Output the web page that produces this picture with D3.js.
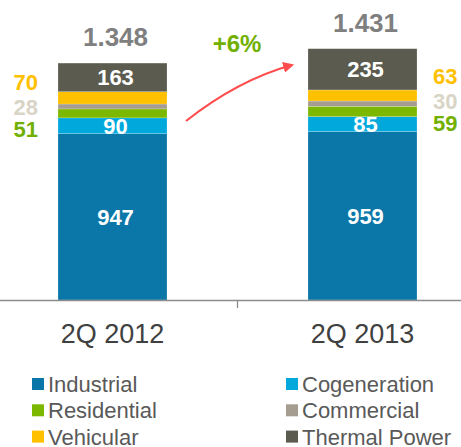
<!DOCTYPE html>
<html>
<head>
<meta charset="utf-8">
<script src="https://cdn.jsdelivr.net/npm/d3@7"></script>
<style>
  body { margin: 0; background: #fff; }
  svg { display: block; font-family: "Liberation Sans", Arial, sans-serif; }
</style>
</head>
<body>
<script>
// stacked volumes by segment, two quarters
var periods = ["2Q 2012", "2Q 2013"];
var segments = ["Industrial", "Cogeneration", "Residential", "Commercial", "Vehicular", "Thermal Power"];
var industrial   = [947, 959];
var cogeneration = [90, 85];
var residential  = [51, 59];
var commercial   = [28, 30];
var vehicular    = [70, 63];
var thermal      = [163, 235];
var totals       = ["1.348", "1.431"];
var growth       = "+6%";

var colors = ["#0a77a8", "#00a8dc", "#7db800", "#a59d90", "#ffc000", "#5b5b4f"];
var sideColors = { "Vehicular": "#ffc000", "Commercial": "#d9d5c6", "Residential": "#72b000" };

var width = 461, height = 447;
var svg = d3.select("body").append("svg")
  .attr("width", width)
  .attr("height", height);

var rows = periods.map(function(p, i) {
  return {
    period: p,
    "Industrial": industrial[i],
    "Cogeneration": cogeneration[i],
    "Residential": residential[i],
    "Commercial": commercial[i],
    "Vehicular": vehicular[i],
    "Thermal Power": thermal[i]
  };
});

var stack = d3.stack().keys(segments);
var series = stack(rows);

var x = d3.scaleBand()
  .domain(periods)
  .range([-12.5, 487.5])
  .paddingInner(0.564)
  .paddingOuter(0.282);

var y = d3.scaleLinear()
  .domain([0, 1600])
  .range([300, 19]);

// bars
var layer = svg.selectAll("g.layer")
  .data(series)
  .enter().append("g")
  .attr("class", "layer")
  .attr("fill", function(d, i) { return colors[i]; });

layer.selectAll("rect")
  .data(function(d) { return d; })
  .enter().append("rect")
  .attr("x", function(d) { return x(d.data.period); })
  .attr("width", x.bandwidth())
  .attr("y", function(d) { return y(d[1]); })
  .attr("height", function(d) { return y(d[0]) - y(d[1]); })
  .attr("stroke", "#ffffff")
  .attr("stroke-opacity", 0.35)
  .attr("stroke-width", 0.6);

// axis
var axis = svg.append("g")
  .attr("transform", "translate(0," + y(0) + ")")
  .call(d3.axisBottom(x).tickSize(0).tickPadding(24));
axis.select(".domain").attr("stroke", "#8c8c8c").attr("stroke-width", 1.3);
axis.selectAll(".tick text")
  .attr("font-family", "Liberation Sans, Arial, sans-serif")
  .attr("font-size", 27)
  .attr("fill", "#404040");

var sep = x(periods[1]) - x.step() * x.paddingInner() / 2;
svg.append("line")
  .attr("x1", sep).attr("x2", sep)
  .attr("y1", y(0)).attr("y2", y(0) + 8)
  .attr("stroke", "#8c8c8c")
  .attr("stroke-width", 1.3);

// white labels inside big segments
var inside = ["Industrial", "Cogeneration", "Thermal Power"];
series.forEach(function(s) {
  if (inside.indexOf(s.key) < 0) return;
  s.forEach(function(d) {
    svg.append("text")
      .attr("x", x(d.data.period) + x.bandwidth() / 2 + 3)
      .attr("y", (y(d[0]) + y(d[1])) / 2)
      .attr("dy", "0.36em")
      .attr("text-anchor", "middle")
      .attr("fill", "#ffffff")
      .attr("font-weight", "bold")
      .attr("font-size", 22)
      .text(d.data[s.key]);
  });
});

// small segment values beside the bars
var sideKeys = ["Vehicular", "Commercial", "Residential"];
var offs = [-25, 0, 22];
periods.forEach(function(p, i) {
  var com = series[3][i];
  var mid = (y(com[0]) + y(com[1])) / 2;
  sideKeys.forEach(function(k, j) {
    svg.append("text")
      .attr("x", i === 0 ? x(p) - 20 : x(p) + x.bandwidth() + 16)
      .attr("y", mid + offs[j] - (i === 0 ? -1 : 3))
      .attr("dy", "0.36em")
      .attr("text-anchor", i === 0 ? "end" : "start")
      .attr("fill", sideColors[k])
      .attr("font-weight", "bold")
      .attr("font-size", 22)
      .text(rows[i][k]);
  });
});

// totals
periods.forEach(function(p, i) {
  var top = series[series.length - 1][i][1];
  svg.append("text")
    .attr("x", x(p) + x.bandwidth() / 2 + 3)
    .attr("y", y(top) - 26)
    .attr("dy", "0.36em")
    .attr("text-anchor", "middle")
    .attr("fill", "#7f7f7f")
    .attr("font-weight", "bold")
    .attr("font-size", 26)
    .text(totals[i]);
});

// growth arrow
svg.append("defs").append("marker")
  .attr("id", "head")
  .attr("viewBox", "0 0 10 10")
  .attr("refX", 8).attr("refY", 5)
  .attr("markerWidth", 5).attr("markerHeight", 5)
  .attr("orient", "auto")
  .append("path")
  .attr("d", "M0,0L10,5L0,10z")
  .attr("fill", "#ff4d4d");

svg.append("path")
  .attr("d", "M186,121Q238,80 292,65")
  .attr("fill", "none")
  .attr("stroke", "#ff4d4d")
  .attr("stroke-width", 2.2)
  .attr("marker-end", "url(#head)");

svg.append("text")
  .attr("x", 237)
  .attr("y", 43)
  .attr("dy", "0.36em")
  .attr("text-anchor", "middle")
  .attr("fill", "#72b000")
  .attr("font-weight", "bold")
  .attr("font-size", 24)
  .text(growth);

// legend
var legend = svg.append("g");
segments.forEach(function(s, i) {
  var col = i % 2, row = Math.floor(i / 2);
  var g = legend.append("g")
    .attr("transform", "translate(" + (col === 0 ? 32 : 286) + "," + (384 + row * 26.3) + ")");
  g.append("rect")
    .attr("x", 0).attr("y", -6)
    .attr("width", 12).attr("height", 12)
    .attr("fill", colors[i]);
  g.append("text")
    .attr("x", 16)
    .attr("dy", "0.36em")
    .attr("fill", "#595959")
    .attr("font-size", 22)
    .text(s);
});
</script>
</body>
</html>
